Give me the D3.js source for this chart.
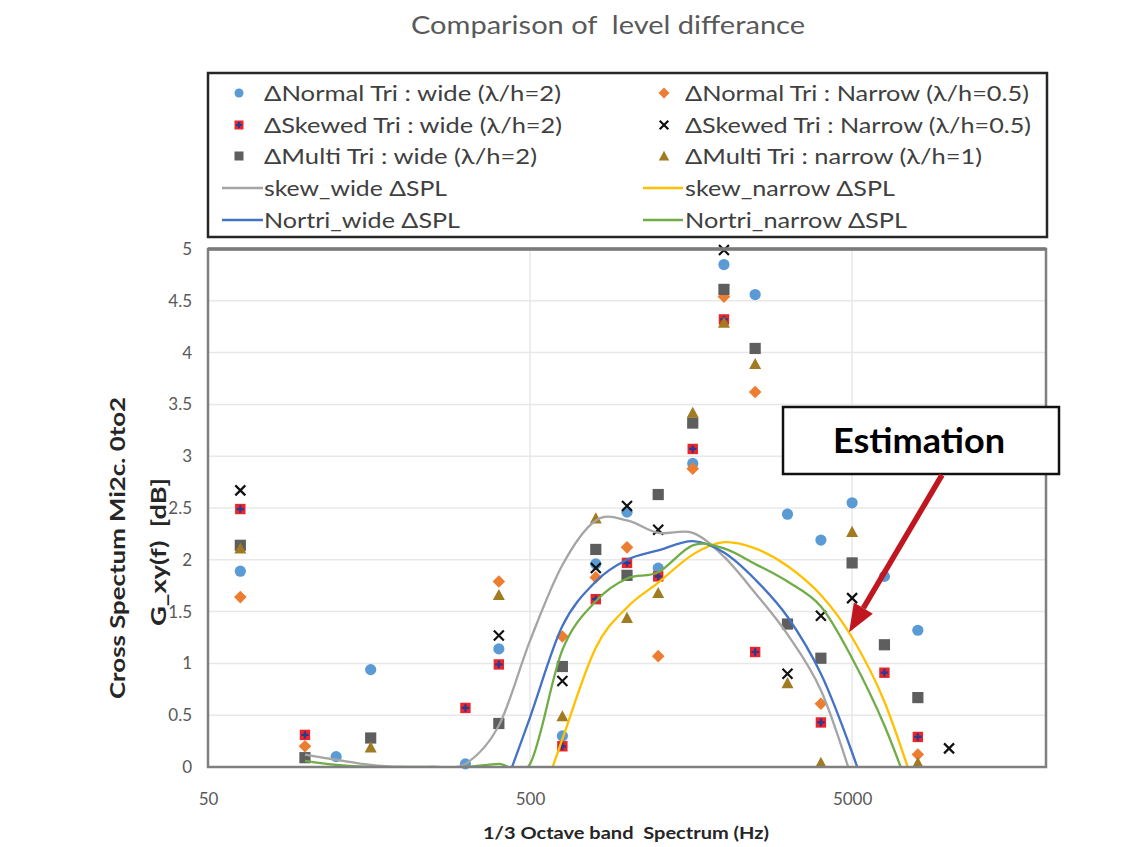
<!DOCTYPE html>
<html>
<head>
<meta charset="utf-8">
<script src="https://cdn.jsdelivr.net/npm/d3@7"></script>
<style>
  body { margin: 0; background: #ffffff; }
  svg { display: block; }
  text { font-family: Lato, "Open Sans", "Liberation Sans", sans-serif; }
</style>
</head>
<body>
<svg id="chart" width="1143" height="847"></svg>
<script>
// ---- measured points: 1/3-octave band centre frequencies (Hz) ----
const freqs = [63, 100, 125, 160, 315, 400, 630, 800, 1000, 1250, 1600, 2000, 2500, 3150, 4000, 5000, 6300, 8000, 10000];

const normalWide   = [1.89, null, 0.10, 0.94, 0.03, 1.14, 0.30, 1.96, 2.46, 1.92, 2.93, 4.85, 4.56, 2.44, 2.19, 2.55, 1.84, 1.32, null];
const normalNarrow = [1.64, 0.20, null, null, null, 1.79, 1.26, 1.83, 2.12, 1.07, 2.88, 4.54, 3.62, null, 0.61, null, null, 0.12, null];
const skewedWide   = [2.49, 0.31, null, null, 0.57, 0.99, 0.20, 1.62, 1.97, 1.84, 3.07, 4.32, 1.11, null, 0.43, null, 0.91, 0.29, null];
const skewedNarrow = [2.67, null, null, null, null, 1.27, 0.83, 1.92, 2.52, 2.29, null, 4.99, null, 0.90, 1.46, 1.63, null, null, 0.18];
const multiWide    = [2.14, 0.09, null, 0.28, null, 0.42, 0.97, 2.10, 1.85, 2.63, 3.32, 4.61, 4.04, 1.38, 1.05, 1.97, 1.18, 0.67, null];
const multiNarrow  = [2.11, null, null, 0.19, null, 1.66, 0.49, 2.40, 1.44, 1.68, 3.42, 4.29, 3.89, 0.81, 0.04, 2.27, null, 0.04, null];

// ---- computed ΔSPL curves ----
const lineFreqs = [100, 125, 160, 200, 250, 315, 400, 500, 630, 800, 1000, 1250, 1600, 2000, 2500, 3150, 4000, 5000, 6300, 8000];

const skewWideSPL    = [0.12, 0.07, 0.02, 0.00, 0.00, 0.03, 0.40, 1.22, 1.95, 2.38, 2.38, 2.26, 2.26, 2.03, 1.68, 1.28, 0.74, -0.12, null, null];
const skewNarrowSPL  = [null, null, null, null, null, null, null, -0.65, 0.27, 1.15, 1.54, 1.78, 2.05, 2.17, 2.11, 1.94, 1.66, 1.25, 0.63, -0.30];
const nortriWideSPL  = [null, null, null, null, null, null, -0.35, 0.48, 1.36, 1.79, 2.00, 2.09, 2.18, 2.07, 1.81, 1.45, 0.90, 0.14, -0.80, null];
const nortriNarrowSPL= [0.06, 0.02, 0.00, 0.00, 0.00, 0.00, 0.03, 0.03, 1.13, 1.60, 1.82, 1.88, 2.14, 2.11, 1.96, 1.79, 1.55, 1.05, 0.40, -0.45];

// ---- axis ticks and texts ----
const xTicks = [50, 500, 5000];
const yTicks = [0, 0.5, 1, 1.5, 2, 2.5, 3, 3.5, 4, 4.5, 5];
const titleText = "Comparison of  level differance";
const xTitle = "1/3 Octave band  Spectrum (Hz)";
const yTitleLines = ["Cross Spectum Mi2c. 0to2", "G_xy(f)  [dB]"];
const noteText = "Estimation";

const legendLabels = [
  "ΔNormal Tri : wide (λ/h=2)", "ΔNormal Tri : Narrow (λ/h=0.5)",
  "ΔSkewed Tri : wide (λ/h=2)", "ΔSkewed Tri : Narrow (λ/h=0.5)",
  "ΔMulti Tri : wide (λ/h=2)",  "ΔMulti Tri : narrow (λ/h=1)",
  "skew_wide ΔSPL",             "skew_narrow ΔSPL",
  "Nortri_wide ΔSPL",           "Nortri_narrow ΔSPL"
];

// ---- layout ----
const svg = d3.select("#chart");
const plot = { left: 208, right: 1046, top: 249, bottom: 767 };

const x = d3.scaleLog().domain([50, 20000]).range([plot.left, plot.right]);
const y = d3.scaleLinear().domain([0, 5]).range([plot.bottom, plot.top]);

const C = {
  blue: "#5B9BD5", orange: "#ED7D31", red: "#E8262B", plus: "#2B3990",
  dark: "#5E5E5E", gold: "#A07B22", black: "#111111",
  lGray: "#A5A5A5", lYellow: "#FFC000", lBlue: "#4472C4", lGreen: "#70AD47",
  text: "#595959"
};

// title
svg.append("text")
  .attr("x", 608).attr("y", 34)
  .attr("text-anchor", "middle")
  .attr("font-size", 25).attr("fill", C.text)
  .style("white-space", "pre")
  .attr("textLength", 394).attr("lengthAdjust", "spacingAndGlyphs")
  .text(titleText);

// gridlines
const grid = svg.append("g");
grid.selectAll("line.h").data(yTicks.filter(v => v > 0 && v < 5)).join("line")
  .attr("x1", plot.left).attr("x2", plot.right)
  .attr("y1", d => y(d)).attr("y2", d => y(d))
  .attr("stroke", "#E8E8E8").attr("stroke-width", 1.5);
grid.selectAll("line.v").data(xTicks.filter(v => v > 50)).join("line")
  .attr("y1", plot.top).attr("y2", plot.bottom)
  .attr("x1", d => x(d)).attr("x2", d => x(d))
  .attr("stroke", "#E8E8E8").attr("stroke-width", 1.5);

// axes (labels only; frame drawn separately)
const yAxis = d3.axisLeft(y).tickValues(yTicks).tickSize(0).tickPadding(16)
  .tickFormat(d3.format("~g"));
svg.append("g").attr("transform", `translate(${plot.left},0)`).call(yAxis)
  .call(g => g.select(".domain").remove())
  .call(g => g.selectAll("text").attr("font-size", 17).attr("fill", C.text)
    .attr("font-family", "Lato, 'Open Sans', sans-serif"));

const xAxis = d3.axisBottom(x).tickValues(xTicks).tickSize(0).tickPadding(26)
  .tickFormat(d3.format("d"));
svg.append("g").attr("transform", `translate(0,${plot.bottom})`).call(xAxis)
  .call(g => g.select(".domain").remove())
  .call(g => g.selectAll("text").attr("font-size", 17).attr("fill", C.text)
    .attr("font-family", "Lato, 'Open Sans', sans-serif"));

// axis titles
svg.append("text")
  .attr("x", 626).attr("y", 839)
  .attr("text-anchor", "middle").attr("font-size", 17.5).attr("font-weight", "bold")
  .attr("fill", "#262626")
  .style("white-space", "pre")
  .attr("textLength", 286).attr("lengthAdjust", "spacingAndGlyphs")
  .text(xTitle);

const yT = svg.append("g").attr("transform", "translate(0,548) rotate(-90)");
yT.append("text").attr("x", 0).attr("y", 125)
  .attr("text-anchor", "middle").attr("font-size", 21).attr("font-weight", "bold")
  .attr("fill", "#262626")
  .attr("textLength", 302).attr("lengthAdjust", "spacingAndGlyphs")
  .text(yTitleLines[0]);
yT.append("text").attr("x", -4).attr("y", 166)
  .attr("text-anchor", "middle").attr("font-size", 21).attr("font-weight", "bold")
  .attr("fill", "#262626")
  .style("white-space", "pre")
  .attr("textLength", 148).attr("lengthAdjust", "spacingAndGlyphs")
  .text(yTitleLines[1]);

// clip for curves
svg.append("defs").append("clipPath").attr("id", "plotClip")
  .append("rect")
  .attr("x", plot.left).attr("y", plot.top)
  .attr("width", plot.right - plot.left).attr("height", plot.bottom - plot.top);

// ---- marker painters ----
function drawCircle(g, color, r) {
  g.append("circle").attr("r", r).attr("fill", color);
}
function drawDiamond(g, color, s) {
  g.append("path").attr("d", `M0,${-s}L${s},0L0,${s}L${-s},0Z`).attr("fill", color);
}
function drawRedSquare(g, s) {
  g.append("rect").attr("x", -s).attr("y", -s).attr("width", 2 * s).attr("height", 2 * s)
    .attr("fill", C.red);
  g.append("path").attr("d", `M${-s + 1.5},0H${s - 1.5}M0,${-s + 1.5}V${s - 1.5}`)
    .attr("stroke", C.plus).attr("stroke-width", 2.2);
}
function drawCross(g, s) {
  g.append("path").attr("d", `M${-s},${-s}L${s},${s}M${-s},${s}L${s},${-s}`)
    .attr("stroke", C.black).attr("stroke-width", 2.2);
}
function drawSquare(g, color, s) {
  g.append("rect").attr("x", -s).attr("y", -s).attr("width", 2 * s).attr("height", 2 * s)
    .attr("fill", color);
}
function drawTriangle(g, color, s) {
  g.append("path").attr("d", `M0,${-s}L${s},${s * 0.85}L${-s},${s * 0.85}Z`).attr("fill", color);
}

const pointSeries = [
  { values: normalWide,   paint: g => drawCircle(g, C.blue, 5.6) },
  { values: normalNarrow, paint: g => drawDiamond(g, C.orange, 6.3) },
  { values: skewedWide,   paint: g => drawRedSquare(g, 5.2) },
  { values: skewedNarrow, paint: g => drawCross(g, 5.0) },
  { values: multiWide,    paint: g => drawSquare(g, C.dark, 5.6) },
  { values: multiNarrow,  paint: g => drawTriangle(g, C.gold, 6.0) }
];

const lineSeries = [
  { values: skewWideSPL,     color: C.lGray },
  { values: skewNarrowSPL,   color: C.lYellow },
  { values: nortriWideSPL,   color: C.lBlue },
  { values: nortriNarrowSPL, color: C.lGreen }
];

// scatter markers
const pts = svg.append("g");
pointSeries.forEach(s => {
  const rows = freqs.map((f, i) => ({ f, v: s.values[i] })).filter(d => d.v !== null);
  pts.append("g").selectAll("g").data(rows).join("g")
    .attr("transform", d => `translate(${x(d.f)},${y(d.v)})`)
    .each(function () { s.paint(d3.select(this)); });
});

// smoothed ΔSPL curves (uniform Catmull-Rom, like a spreadsheet "smoothed line")
const lineGen = d3.line()
  .defined(d => d.v !== null)
  .x(d => x(d.f)).y(d => y(d.v))
  .curve(d3.curveCardinal.tension(0));

const curves = svg.append("g").attr("clip-path", "url(#plotClip)");
lineSeries.forEach(s => {
  const rows = lineFreqs.map((f, i) => ({ f, v: s.values[i] })).filter(d => d.v !== null);
  curves.append("path").datum(rows)
    .attr("d", lineGen)
    .attr("fill", "none").attr("stroke", s.color).attr("stroke-width", 2.3);
});

// plot frame
svg.append("rect")
  .attr("x", plot.left).attr("y", plot.top)
  .attr("width", plot.right - plot.left).attr("height", plot.bottom - plot.top)
  .attr("fill", "none").attr("stroke", "#7F7F7F").attr("stroke-width", 2.5);
svg.append("line")
  .attr("x1", plot.left).attr("x2", plot.right)
  .attr("y1", plot.top).attr("y2", plot.top)
  .attr("stroke", "#7A7A7A").attr("stroke-width", 3.5);

// ---- legend ----
const legend = svg.append("g");
legend.append("rect")
  .attr("x", 208).attr("y", 73).attr("width", 839).attr("height", 164)
  .attr("fill", "#ffffff").attr("stroke", "#262626").attr("stroke-width", 2.5);

const legendRowsY = [93, 125, 156, 188, 220];
const legendColX = [{ mark: 239, l1: 222, l2: 263, text: 264 }, { mark: 664, l1: 643, l2: 683, text: 685 }];
const legendWidths = [297, 344, 298, 346, 273, 297, 183, 210, 196, 222];
const legendPaint = [
  g => drawCircle(g, C.blue, 4.5),
  g => drawDiamond(g, C.orange, 5.5),
  g => drawRedSquare(g, 4.5),
  g => drawCross(g, 4.3),
  g => drawSquare(g, C.dark, 4.5),
  g => drawTriangle(g, C.gold, 5.2)
];

legendLabels.forEach((label, i) => {
  const row = Math.floor(i / 2), col = i % 2;
  const cx = legendColX[col], cy = legendRowsY[row];
  if (i < 6) {
    const g = legend.append("g").attr("transform", `translate(${cx.mark},${cy})`);
    legendPaint[i](g);
  } else {
    legend.append("line").attr("x1", cx.l1).attr("x2", cx.l2).attr("y1", cy).attr("y2", cy)
      .attr("stroke", lineSeries[i - 6].color).attr("stroke-width", 2.5);
  }
  legend.append("text")
    .attr("x", cx.text).attr("y", cy).attr("dy", "0.36em")
    .attr("font-size", 21).attr("fill", "#404040")
    .attr("textLength", legendWidths[i]).attr("lengthAdjust", "spacingAndGlyphs")
    .text(label);
});

// ---- "Estimation" callout ----
const note = svg.append("g");
note.append("rect")
  .attr("x", 783).attr("y", 407).attr("width", 276).attr("height", 67)
  .attr("fill", "#ffffff").attr("stroke", "#111111").attr("stroke-width", 2.5);
note.append("text")
  .attr("x", 919).attr("y", 453)
  .attr("text-anchor", "middle").attr("font-size", 35).attr("font-weight", "bold")
  .attr("fill", "#000000")
  .attr("textLength", 172).attr("lengthAdjust", "spacingAndGlyphs")
  .text(noteText);

// arrow from the callout down to the skew_narrow curve near 5 kHz
const tail = [942, 475];
const tip = [x(5000) - 3, y(1.3)];
const ang = Math.atan2(tip[1] - tail[1], tip[0] - tail[0]);
const headLen = 28, headHalf = 11;
const base = [tip[0] - headLen * Math.cos(ang), tip[1] - headLen * Math.sin(ang)];
const nx = -Math.sin(ang), ny = Math.cos(ang);
const arrowColor = "#C0161F";
note.append("line")
  .attr("x1", tail[0]).attr("y1", tail[1]).attr("x2", base[0]).attr("y2", base[1])
  .attr("stroke", arrowColor).attr("stroke-width", 5.5);
note.append("path")
  .attr("d", `M${tip[0]},${tip[1]}L${base[0] + nx * headHalf},${base[1] + ny * headHalf}L${base[0] - nx * headHalf},${base[1] - ny * headHalf}Z`)
  .attr("fill", arrowColor);
</script>
</body>
</html>
